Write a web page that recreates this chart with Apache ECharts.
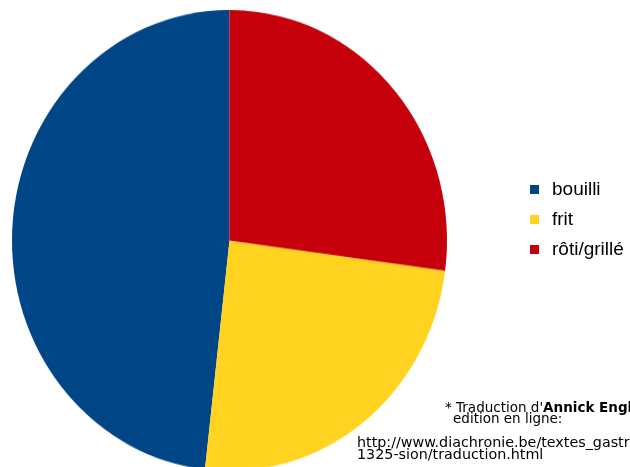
<!DOCTYPE html>
<html>
<head>
<meta charset="utf-8">
<script src="https://cdn.jsdelivr.net/npm/echarts@6/dist/echarts.min.js"></script>
<style>
  html, body { margin: 0; padding: 0; background: #ffffff; overflow: hidden; }
  #wrap { position: relative; width: 630px; height: 467px; overflow: hidden; }
  #pie { position: absolute; left: 0; top: 0; width: 630px; height: 467px;
         transform-origin: 229.5px 240.5px; transform: scaleY(1.06); }
  #main { position: absolute; left: 0; top: 0; width: 630px; height: 467px; }
</style>
</head>
<body>
<div id="wrap">
  <div id="pie"></div>
  <div id="main"></div>
</div>
<script>
// ---- data ----
const categories = ['bouilli', 'frit', 'rôti/grillé'];
const values = [48.2, 24.7, 27.1];
const colors = ['#004586', '#ffd320', '#c5000b'];
const noteLines = [
  "* Traduction d'",
  'Annick Engl',
  'edition en ligne:',
  'http://www.diachronie.be/textes_gastr',
  '1325-sion/traduction.html'
];

const pieData = categories.map((c, i) => ({ name: c, value: values[i], itemStyle: { color: colors[i] } }));

// pie chart (drawn as a circle, stretched vertically via CSS to match the elliptical reference)
const pieChart = echarts.init(document.getElementById('pie'), null, { renderer: 'canvas' });
pieChart.setOption({
  animation: false,
  series: [{
    type: 'pie',
    center: [229.5, 240.5],
    radius: 217.5,
    startAngle: 90,
    clockwise: false,
    label: { show: false },
    labelLine: { show: false },
    itemStyle: { borderWidth: 0 },
    data: pieData
  }]
});

// overlay: legend + footnote
const noteFont = 'DejaVu Sans, sans-serif';
const main = echarts.init(document.getElementById('main'), null, { renderer: 'canvas' });
main.setOption({
  animation: false,
  backgroundColor: 'transparent',
  legend: {
    orient: 'vertical',
    left: 525,
    top: 175,
    icon: 'rect',
    itemWidth: 9,
    itemHeight: 9,
    itemGap: 11,
    selectedMode: false,
    textStyle: { fontFamily: 'Liberation Sans, Arial, sans-serif', fontSize: 19, color: '#000000', padding: [0, 0, 0, 8] },
    data: categories
  },
  series: [{
    type: 'pie',
    center: [-100, -100],
    radius: 0,
    silent: true,
    label: { show: false },
    labelLine: { show: false },
    data: pieData
  }],
  graphic: [
    {
      type: 'text', left: 445, top: 401,
      style: {
        text: '{n|' + noteLines[0] + '}{b|' + noteLines[1] + '}',
        rich: {
          n: { fontFamily: noteFont, fontSize: 13.5, fill: '#000' },
          b: { fontFamily: noteFont, fontSize: 13.5, fontWeight: 'bold', fill: '#000' }
        }
      }
    },
    {
      type: 'text', left: 453, top: 412,
      style: { text: noteLines[2], fontFamily: noteFont, fontSize: 13.5, fill: '#000' }
    },
    {
      type: 'text', left: 357, top: 436,
      style: { text: noteLines[3], fontFamily: noteFont, fontSize: 14.3, fill: '#000' }
    },
    {
      type: 'text', left: 357, top: 448,
      style: { text: noteLines[4], fontFamily: noteFont, fontSize: 14.3, fill: '#000' }
    }
  ]
});
</script>
</body>
</html>
